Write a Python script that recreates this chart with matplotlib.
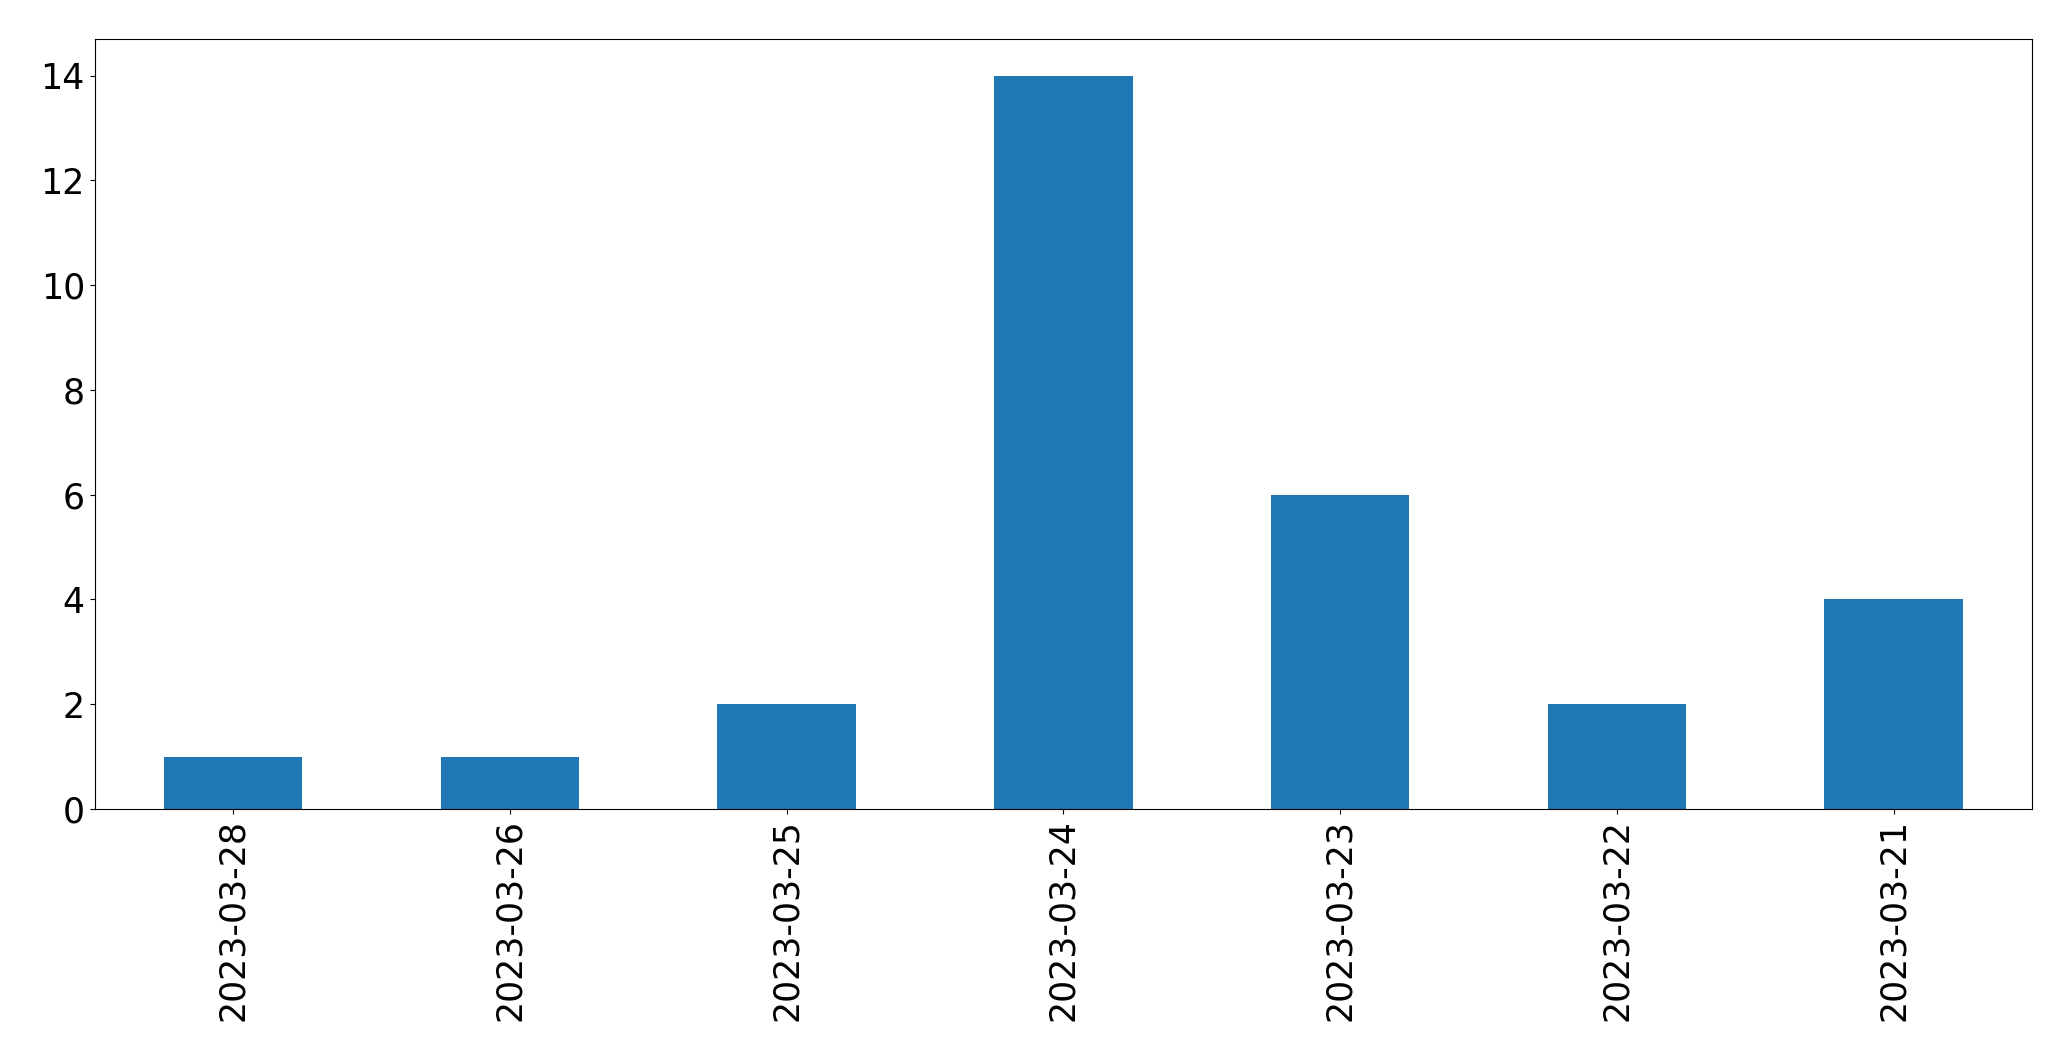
import matplotlib
matplotlib.use('Agg')
import matplotlib.pyplot as plt
import pandas as pd

plt.close('all')

# Conteo por fecha
fechas = ['2023-03-28', '2023-03-26', '2023-03-25', '2023-03-24',
          '2023-03-23', '2023-03-22', '2023-03-21']
conteos = [1, 1, 2, 14, 6, 2, 4]

serie = pd.Series(conteos, index=fechas)

fig, ax = plt.subplots(figsize=(20.71, 10.61), dpi=100)
serie.plot(kind='bar', ax=ax, color='#1f77b4', fontsize=25)
ax.tick_params(axis='x', labelrotation=90)
fig.subplots_adjust(left=0.0457, right=0.9812, top=0.9632, bottom=0.2375)
plt.savefig('out.png', dpi=100)
